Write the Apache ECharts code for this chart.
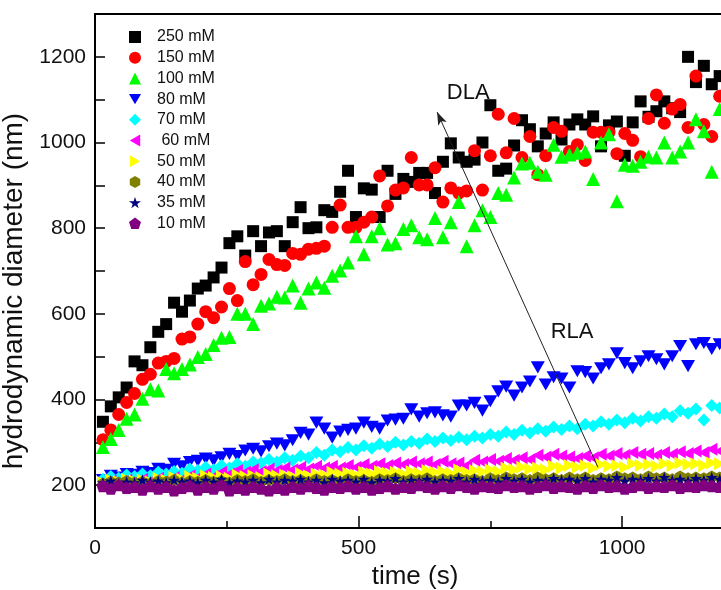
<!DOCTYPE html>
<html>
<head>
<meta charset="utf-8">
<script src="https://cdn.jsdelivr.net/npm/echarts@6/dist/echarts.min.js"></script>
<style>
  html, body { margin: 0; padding: 0; background: #fff; }
  #chart { width: 721px; height: 590px; }
</style>
</head>
<body>
<div id="chart"></div>
<script>
// time (s)
var times = [15, 30, 45, 60, 75, 90, 105, 120, 135, 150, 165, 180, 195, 210, 225, 240, 255, 270, 285, 300,
  315, 330, 345, 360, 375, 390, 405, 420, 435, 450, 465, 480, 495, 510, 525, 540, 555, 570, 585, 600,
  615, 630, 645, 660, 675, 690, 705, 720, 735, 750, 765, 780, 795, 810, 825, 840, 855, 870, 885, 900,
  915, 930, 945, 960, 975, 990, 1005, 1020, 1035, 1050, 1065, 1080, 1095, 1110, 1125, 1140, 1155, 1170, 1185];

// hydrodynamic diameter (nm)
var d250 = [348, 384, 405, 428, 489, 480, 522, 558, 576, 626, 605, 631, 659, 666, 685, 708, 765, 781, 736, 793,
  758, 790, 793, 758, 814, 849, 800, 802, 842, 838, 885, 934, 826, 893, 890, 826, 934, 880, 915, 908,
  929, 929, 882, 955, 998, 965, 955, 960, 1000, 1087, 934, 939, 993, 1052, 1031, 991, 1021, 1047, 1007, 1042,
  1054, 1042, 1061, 991, 1040, 1049, 969, 1047, 1096, 1060, 1073, 1096, 1080, 1071, 1200, 1141, 1179, 1136, 1155];
var d150 = [306, 329, 365, 393, 414, 447, 459, 485, 489, 496, 541, 546, 576, 605, 591, 616, 659, 631, 722, 668,
  692, 727, 715, 713, 741, 739, 751, 753, 758, 802, 854, 802, 802, 814, 826, 922, 852, 889, 894, 965,
  901, 901, 941, 861, 894, 882, 887, 981, 889, 969, 1066, 976, 1056, 965, 1014, 925, 969, 1035, 1026, 979,
  995, 958, 1024, 1024, 1024, 974, 1021, 1005, 967, 1056, 1111, 1045, 1078, 1089, 1035, 1155, 1042, 1014, 1108];
var d100 = [289, 308, 329, 355, 365, 402, 424, 421, 471, 461, 471, 482, 499, 506, 527, 544, 546, 600, 600, 576,
  619, 624, 640, 638, 666, 626, 659, 673, 661, 689, 701, 720, 781, 739, 781, 800, 762, 765, 798, 807,
  779, 774, 824, 779, 814, 861, 758, 807, 842, 826, 882, 878, 918, 951, 953, 932, 925, 995, 967, 972,
  976, 979, 915, 1000, 1019, 863, 948, 946, 955, 967, 965, 1000, 965, 979, 1000, 1054, 1026, 932, 1078];
var d80 = [212, 222, 218, 226, 224, 231, 228, 238, 236, 250, 244, 254, 257, 262, 258, 265, 273, 268, 281, 285,
  279, 291, 297, 293, 305, 322, 318, 346, 332, 311, 325, 329, 332, 346, 336, 332, 351, 353, 355, 377,
  360, 368, 370, 363, 360, 386, 386, 392, 374, 396, 419, 430, 409, 428, 442, 475, 435, 452, 449, 428,
  466, 464, 449, 473, 482, 508, 485, 473, 489, 501, 494, 482, 501, 525, 478, 529, 532, 518, 529];
var d70 = [214, 220, 216, 224, 220, 226, 222, 230, 226, 232, 228, 238, 234, 242, 236, 246, 240, 250, 244, 254,
  252, 260, 254, 264, 258, 268, 264, 276, 270, 282, 278, 288, 282, 292, 286, 296, 290, 300, 294, 302,
  298, 308, 302, 310, 304, 312, 306, 314, 310, 318, 314, 324, 318, 328, 322, 332, 326, 336, 330, 338,
  332, 342, 338, 348, 342, 352, 346, 356, 350, 360, 356, 366, 360, 374, 368, 378, 352, 386, 380];
var d60 = [204, 210, 206, 212, 208, 214, 210, 216, 212, 218, 214, 222, 218, 226, 220, 230, 226, 234, 230, 236,
  232, 238, 234, 240, 236, 242, 238, 244, 240, 244, 240, 246, 242, 248, 244, 250, 246, 252, 248, 254,
  250, 254, 248, 256, 250, 252, 246, 258, 254, 260, 256, 262, 258, 264, 260, 270, 266, 272, 268, 266,
  262, 268, 264, 272, 268, 274, 270, 276, 272, 274, 270, 276, 272, 278, 274, 280, 276, 284, 280];
var d50 = [206, 212, 208, 214, 210, 212, 208, 216, 212, 218, 214, 220, 216, 222, 218, 220, 216, 224, 220, 222,
  218, 226, 222, 224, 220, 228, 222, 226, 224, 230, 226, 228, 224, 230, 226, 232, 228, 230, 226, 232,
  228, 234, 230, 232, 228, 236, 230, 234, 232, 236, 232, 240, 236, 242, 238, 240, 236, 244, 240, 246,
  242, 246, 240, 248, 244, 246, 242, 250, 246, 248, 244, 250, 246, 252, 248, 250, 246, 252, 250];
var d40 = [204, 208, 206, 210, 206, 208, 204, 210, 208, 212, 206, 210, 208, 212, 208, 210, 206, 212, 210, 214,
  208, 212, 210, 214, 210, 212, 208, 214, 210, 212, 208, 214, 210, 212, 208, 214, 212, 216, 210, 214,
  212, 216, 210, 214, 212, 216, 212, 214, 210, 216, 212, 218, 214, 216, 212, 218, 214, 216, 212, 218,
  214, 218, 212, 216, 214, 220, 216, 218, 214, 220, 216, 218, 214, 220, 216, 218, 216, 220, 218];
var d35 = [206, 210, 204, 208, 206, 212, 208, 210, 206, 212, 208, 210, 206, 212, 208, 214, 206, 210, 208, 212,
  206, 214, 208, 212, 210, 214, 208, 212, 206, 214, 210, 212, 208, 214, 206, 212, 210, 216, 208, 212,
  210, 214, 208, 212, 210, 216, 208, 214, 210, 212, 208, 216, 210, 214, 208, 212, 210, 216, 212, 214,
  210, 216, 208, 214, 212, 218, 210, 214, 212, 216, 210, 218, 212, 214, 210, 216, 212, 218, 214];
var d10 = [198, 192, 200, 194, 196, 190, 198, 192, 196, 188, 194, 198, 190, 196, 192, 200, 188, 194, 190, 196,
  192, 188, 194, 190, 196, 192, 198, 194, 190, 196, 194, 198, 192, 196, 190, 194, 198, 192, 196, 194,
  200, 196, 192, 198, 194, 200, 196, 192, 198, 196, 194, 200, 196, 198, 192, 196, 200, 194, 198, 196,
  192, 198, 194, 200, 196, 198, 192, 196, 200, 194, 198, 196, 200, 194, 198, 196, 200, 198, 196];

var names = ['250 mM', '150 mM', '100 mM', '80 mM', '70 mM', ' 60 mM', '50 mM', '40 mM', '35 mM', '10 mM'];
var values = [d250, d150, d100, d80, d70, d60, d50, d40, d35, d10];

// 样式
var colors = ['#000000', '#ff0000', '#00ff00', '#0000ff', '#00ffff', '#ff00ff', '#ffff00', '#808000', '#000080', '#800080'];
var symbols = [
  'rect',
  'circle',
  'triangle',
  'path://M0,0L10,0L5,8.66Z',
  'diamond',
  'path://M8.66,0L8.66,10L0,5Z',
  'path://M0,0L8.66,5L0,10Z',
  'path://M5,0L9.33,2.5L9.33,7.5L5,10L0.67,7.5L0.67,2.5Z',
  'path://M5,0L6.18,3.62L10,3.62L6.91,5.86L8.09,9.51L5,7.24L1.91,9.51L3.09,5.86L0,3.62L3.82,3.62Z',
  'path://M5,0L10,3.63L8.09,9.51L1.91,9.51L0,3.63Z'
];
var sizes = [12, 13, 14, 14, 13, 13, 13, 12, 12, 13];

var series = names.map(function (n, k) {
  return {
    name: n,
    type: 'scatter',
    symbol: symbols[k],
    symbolSize: sizes[k],
    symbolKeepAspect: true,
    itemStyle: { color: colors[k], opacity: 1 },
    data: values[k].map(function (v, i) { return [times[i], v]; })
  };
});

// DLA / RLA 箭头和文字
series[0].markLine = {
  silent: true,
  animation: false,
  label: { show: false },
  lineStyle: { color: '#222', width: 1, type: 'solid' },
  symbolSize: [7, 13],
  data: [[
    { coord: [954, 242], symbol: 'none' },
    { coord: [649, 1071], symbol: 'arrow' }
  ]]
};
series[0].markPoint = {
  silent: true,
  animation: false,
  symbol: 'circle',
  symbolSize: 0,
  label: { show: true, position: 'inside', formatter: '{b}', color: '#111', fontSize: 22, fontFamily: 'Liberation Sans' },
  data: [
    { name: 'DLA', coord: [708, 1115] },
    { name: 'RLA', coord: [905, 558] }
  ]
};

var chart = echarts.init(document.getElementById('chart'));
chart.setOption({
  animation: false,
  backgroundColor: '#fff',
  textStyle: { fontFamily: 'Liberation Sans' },
  grid: {
    left: 95, right: -112, top: 14, bottom: 62,
    outerBoundsMode: 'none',
    containLabel: false,
    show: true, borderColor: '#000', borderWidth: 2
  },
  legend: {
    orient: 'vertical',
    left: 124, top: 24,
    itemWidth: 12, itemHeight: 12,
    itemGap: 4.7,
    textStyle: { fontSize: 16, color: '#111', lineHeight: 16, padding: [0, 0, 0, 11] },
    data: names
  },
  xAxis: {
    type: 'value',
    min: 0, max: 1400, interval: 500,
    name: 'time (s)',
    nameLocation: 'middle',
    nameGap: 36,
    nameTextStyle: { fontSize: 26, color: '#111', padding: [0, 98, 0, 0] },
    axisLine: { show: true, onZero: false, lineStyle: { color: '#000', width: 2 } },
    axisTick: { show: true, inside: true, length: 12, lineStyle: { color: '#000', width: 1.5 } },
    minorTick: { show: true, splitNumber: 2, length: 7, lineStyle: { color: '#000', width: 1.5 } },
    axisLabel: { fontSize: 21, color: '#111', margin: 10, formatter: function (v) { return String(v); } },
    splitLine: { show: false }
  },
  yAxis: {
    type: 'value',
    min: 100, max: 1300, interval: 100,
    name: 'hydrodynamic diameter (nm)',
    nameLocation: 'middle',
    nameGap: 52,
    nameTextStyle: { fontSize: 28, color: '#111', padding: [0, 40, 0, 0] },
    axisLine: { show: true, onZero: false, lineStyle: { color: '#000', width: 2 } },
    axisTick: { show: true, inside: true, length: 10, lineStyle: { color: '#000', width: 1.5 } },
    axisLabel: {
      fontSize: 21, color: '#111', margin: 9,
      formatter: function (v) { return v % 200 === 0 ? String(v) : ''; }
    },
    splitLine: { show: false }
  },
  series: series
});
</script>
</body>
</html>
